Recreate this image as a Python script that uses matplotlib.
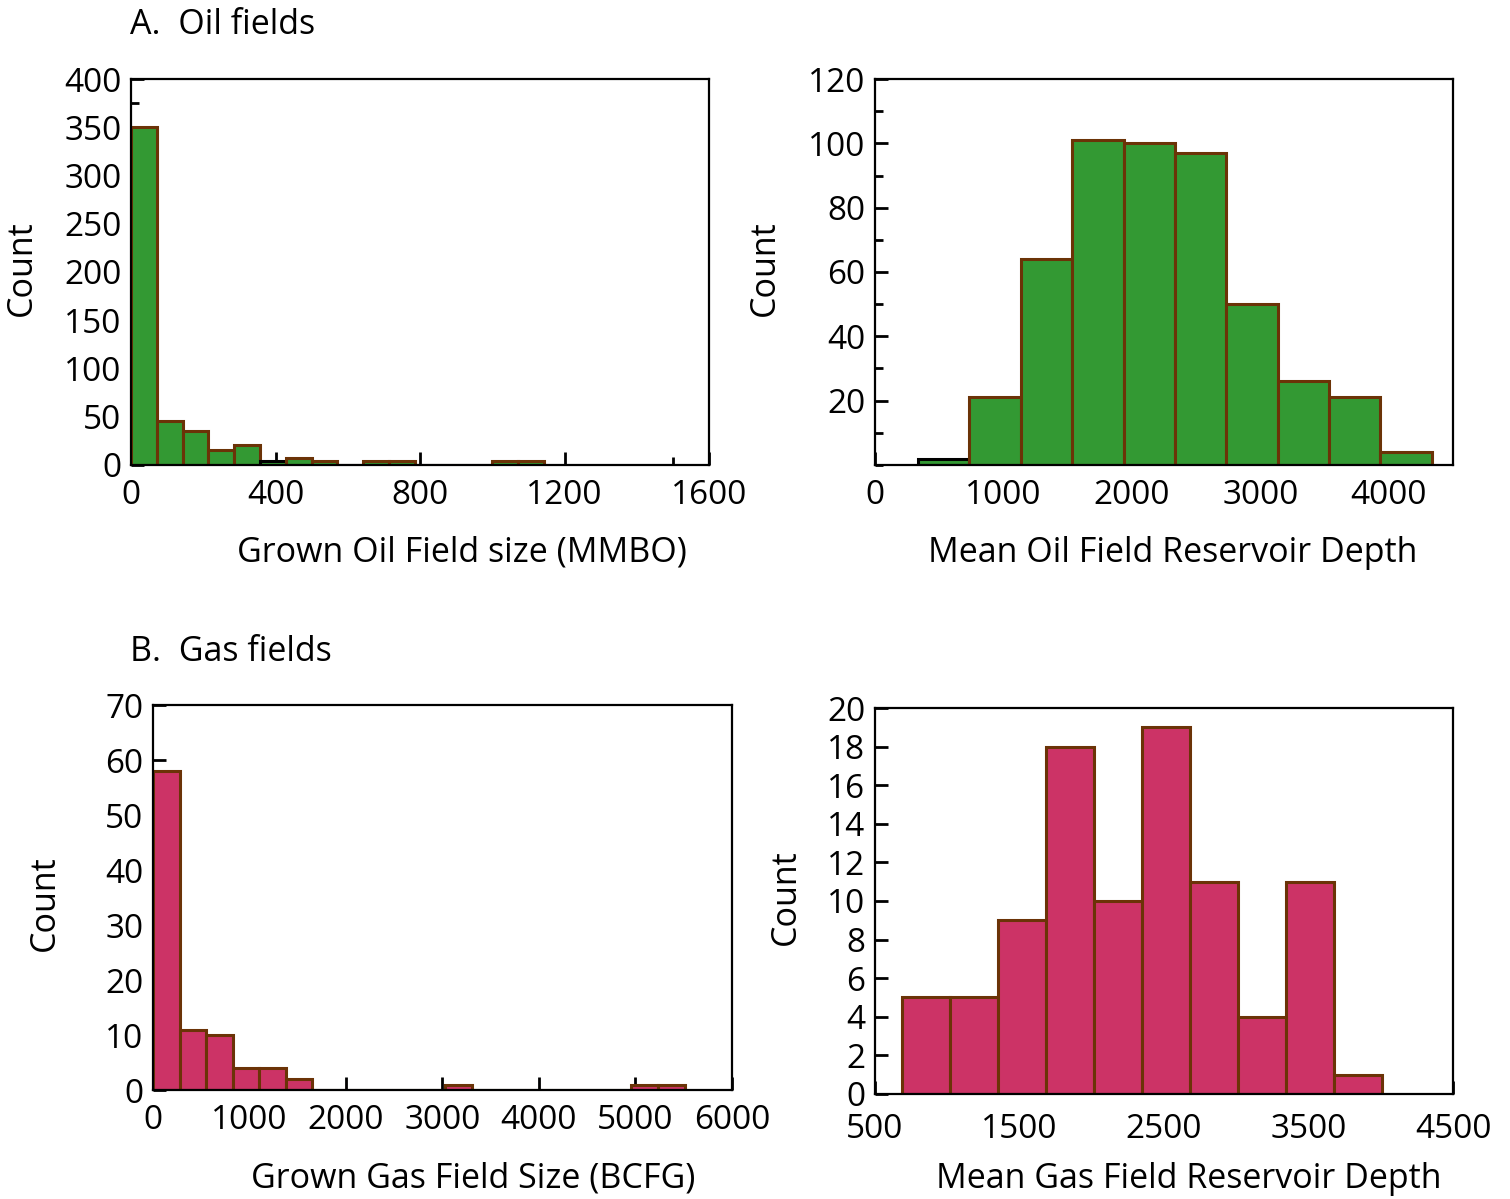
"""
Histograms of grown field size and mean reservoir depth for oil and gas fields.
"""

import matplotlib.pyplot as plt
from matplotlib.ticker import MultipleLocator, FixedLocator
import numpy as np

plt.rcParams['font.family'] = ['Open Sans', 'DejaVu Sans']
plt.rcParams['font.size'] = 24

# Oil field size (MMBO): bin start, bin width, counts
oil_size_start = 0
oil_size_width = 71.4
oil_size_counts = [350, 46, 35, 15, 21, 4, 7, 4, 0, 4, 4, 0, 0, 0, 4, 4]

# Oil field depth: bin start, bin width, counts
oil_depth_start = 335
oil_depth_width = 400
oil_depth_counts = [2, 21, 64, 101, 100, 97, 50, 26, 21, 4]

# Gas field size (BCFG)
gas_size_start = 0
gas_size_width = 275.5
gas_size_counts = [58, 11, 10, 4, 4, 2, 0, 0, 0, 0, 0, 1, 0, 0, 0, 0, 0, 0, 1, 1]

# Gas field depth
gas_depth_start = 685
gas_depth_width = 332.6
gas_depth_counts = [5, 5, 9, 18, 10, 19, 11, 4, 11, 1]

green = '#339933'
pink = '#cc3366'
edge = '#6b3307'

fig = plt.figure(figsize=(15.10, 11.99), dpi=100)


def make_axes(rect, xpad=10):
    ax = fig.add_axes(rect)
    for s in ax.spines.values():
        s.set_linewidth(1.6)
    ax.tick_params(which='both', direction='in', top=False, right=False,
                   width=2.0, labelsize=24)
    ax.tick_params(which='major', length=9.5)
    ax.tick_params(which='minor', length=5.5)
    ax.tick_params(axis='x', pad=xpad)
    ax.tick_params(axis='y', pad=7)
    return ax


def draw_hist(ax, start, width, counts, color, black_bins=()):
    counts = np.array(counts)
    lefts = start + width * np.arange(len(counts))
    edges = [('black' if i in black_bins else edge) for i in range(len(counts))]
    ax.bar(lefts, counts, width, align='edge', color=color,
           edgecolor=edges, linewidth=2.2, zorder=2)


def labels(ax, xlabel, xpos, ypos_x, ylabel_x, ylabel_y):
    ax.set_xlabel(xlabel, fontsize=24.5)
    ax.xaxis.set_label_coords(xpos, ypos_x)
    ax.xaxis.label.set_va('center')
    ax.set_ylabel('Count', fontsize=24.5)
    ax.yaxis.set_label_coords(ylabel_x, ylabel_y)
    ax.yaxis.label.set_va('center')


# A. Oil field size
ax1 = make_axes([0.0868, 0.6122, 0.3828, 0.3219])
draw_hist(ax1, oil_size_start, oil_size_width, oil_size_counts, green, black_bins=(5,))
ax1.set_xlim(0, 1600)
ax1.set_ylim(0, 400)
ax1.set_xticks([0, 400, 800, 1200, 1600])
ax1.xaxis.set_minor_locator(FixedLocator([1500]))
ax1.yaxis.set_major_locator(MultipleLocator(50))
ax1.yaxis.set_minor_locator(MultipleLocator(25))
labels(ax1, 'Grown Oil Field size (MMBO)', 0.572, -0.228, -0.189, 0.51)

# A. Oil field depth
ax2 = make_axes([0.5795, 0.6122, 0.3828, 0.3219])
draw_hist(ax2, oil_depth_start, oil_depth_width, oil_depth_counts, green, black_bins=(0,))
ax2.set_xlim(0, 4500)
ax2.set_ylim(0, 120)
ax2.set_xticks([0, 1000, 2000, 3000, 4000])
ax2.yaxis.set_major_locator(FixedLocator([20, 40, 60, 80, 100, 120]))
ax2.yaxis.set_minor_locator(MultipleLocator(10))
labels(ax2, 'Mean Oil Field Reservoir Depth', 0.515, -0.228, -0.19, 0.51)

# B. Gas field size
ax3 = make_axes([0.1013, 0.0909, 0.3834, 0.3211])
draw_hist(ax3, gas_size_start, gas_size_width, gas_size_counts, pink)
ax3.set_xlim(0, 6000)
ax3.set_ylim(0, 70)
ax3.xaxis.set_major_locator(MultipleLocator(1000))
ax3.yaxis.set_major_locator(MultipleLocator(10))
labels(ax3, 'Grown Gas Field Size (BCFG)', 0.553, -0.229, -0.187, 0.486)

# B. Gas field depth
ax4 = make_axes([0.5795, 0.0876, 0.3828, 0.3219], xpad=14)
draw_hist(ax4, gas_depth_start, gas_depth_width, gas_depth_counts, pink)
ax4.set_xlim(500, 4500)
ax4.set_ylim(0, 20)
ax4.set_xticks([500, 1500, 2500, 3500, 4500])
ax4.yaxis.set_major_locator(MultipleLocator(2))
labels(ax4, 'Mean Gas Field Reservoir Depth', 0.543, -0.22, -0.154, 0.51)

fig.text(130 / 1510, 1 - 25 / 1199, 'A.  Oil fields', fontsize=24.5, va='center', ha='left')
fig.text(130 / 1510, 1 - 652 / 1199, 'B.  Gas fields', fontsize=24.5, va='center', ha='left')

fig.savefig('out.png', dpi=100)
